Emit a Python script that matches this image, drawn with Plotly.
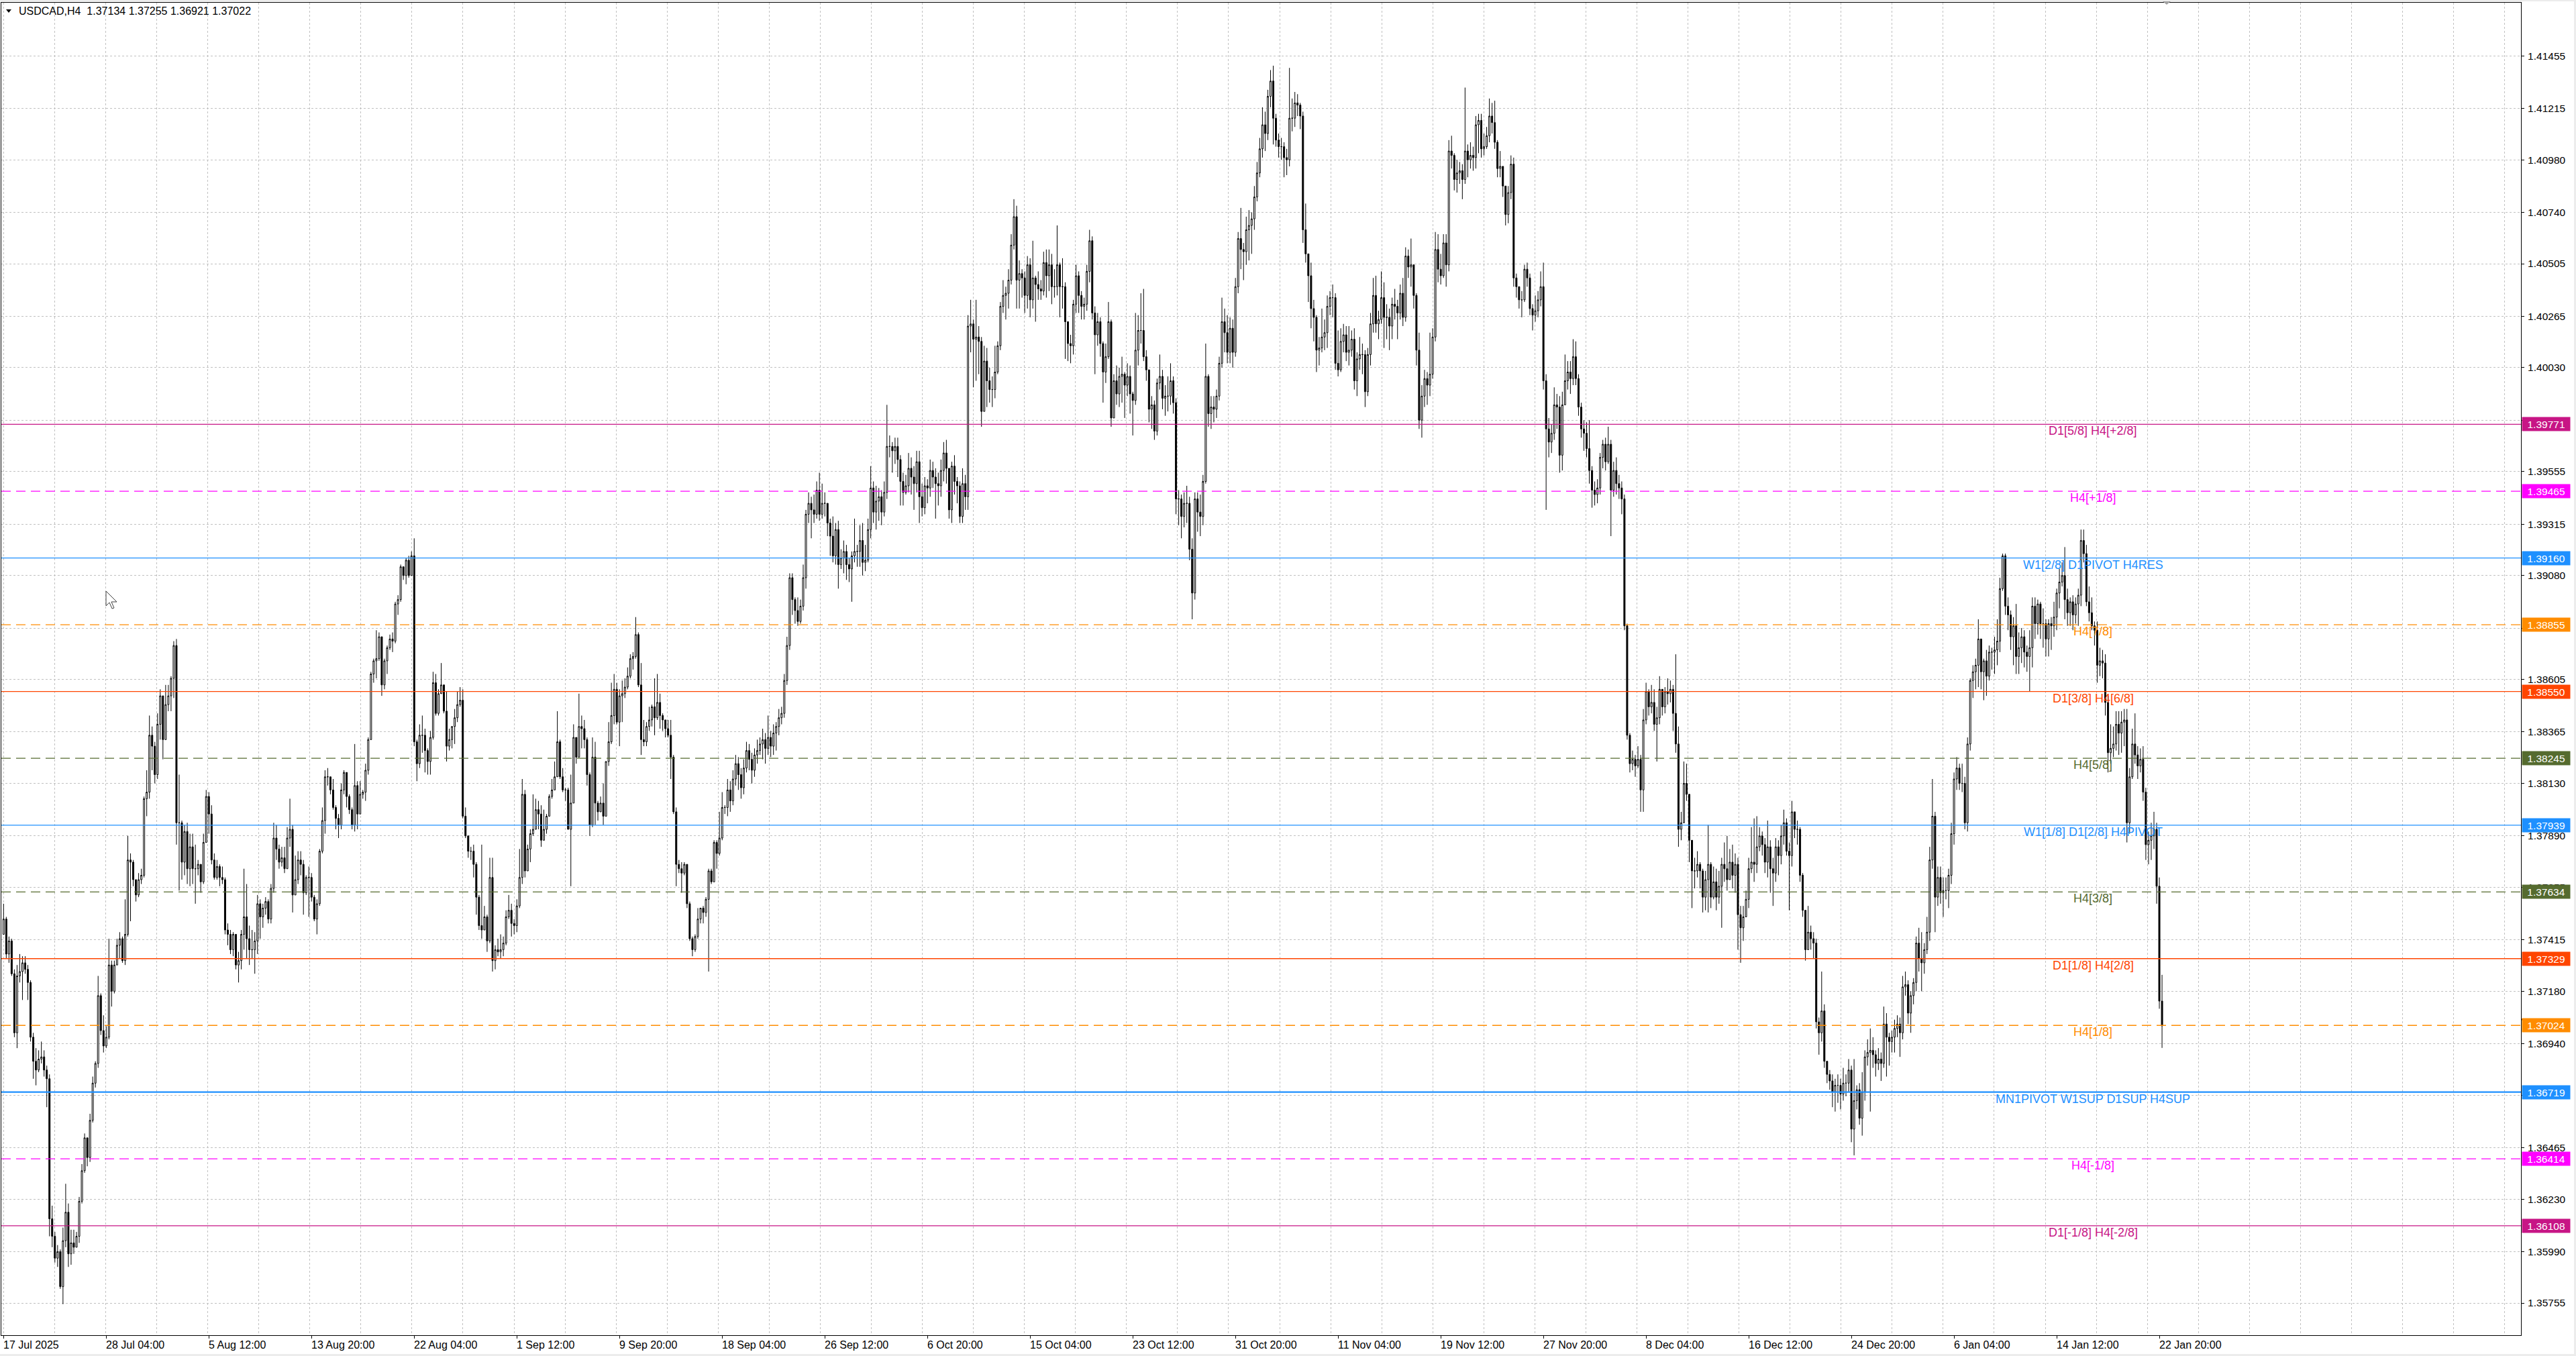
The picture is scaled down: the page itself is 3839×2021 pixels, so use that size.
import plotly.graph_objects as go

# ---------------- data ----------------
SYMBOL_TITLE = "USDCAD,H4\u00a0 1.37134 1.37255 1.36921 1.37022"

FIRST_OPEN = 1.3744

CLOSE = [
 1.3751,1.3735,1.3741,1.3726,1.3699,1.3725,1.3727,1.3731,1.3728,1.3722,
 1.3697,1.3686,1.3682,1.3687,1.3688,1.3682,1.3678,1.3614,1.3606,1.3596,
 1.3599,1.3583,1.3604,1.3617,1.3598,1.3603,1.3601,1.3606,1.3622,1.3636,
 1.3651,1.3642,1.3659,1.3676,1.3685,1.3716,1.3700,1.3693,1.3697,1.3730,
 1.3718,1.3730,1.3739,1.3742,1.3732,1.3744,1.3778,1.3777,1.3769,1.3762,
 1.3769,1.3771,1.3806,1.3809,1.3835,1.3830,1.3817,1.3840,1.3853,1.3833,
 1.3849,1.3853,1.3861,1.3876,1.3795,1.3795,1.3777,1.3791,1.3774,1.3784,
 1.3774,1.3774,1.3776,1.3768,1.3786,1.3807,1.3799,1.3778,1.3770,1.3775,
 1.3770,1.3769,1.3746,1.3744,1.3737,1.3744,1.3730,1.3732,1.3744,1.3752,
 1.3742,1.3737,1.3737,1.3741,1.3758,1.3752,1.3756,1.3759,1.3751,1.3765,
 1.3788,1.3783,1.3777,1.3779,1.3774,1.3788,1.3792,1.3762,1.3769,1.3778,
 1.3776,1.3763,1.3770,1.3770,1.3761,1.3751,1.3758,1.3782,1.3796,1.3816,
 1.3816,1.3810,1.3802,1.3797,1.3794,1.3810,1.3818,1.3807,1.3801,1.3794,
 1.3812,1.3799,1.3808,1.3809,1.3819,1.3833,1.3863,1.3869,1.3870,1.3880,
 1.3858,1.3869,1.3875,1.3879,1.3878,1.3895,1.3897,1.3912,1.3908,1.3915,
 1.3908,1.3917,1.3832,1.3822,1.3835,1.3835,1.3828,1.3823,1.3834,1.3859,
 1.3845,1.3854,1.3858,1.3846,1.3830,1.3833,1.3839,1.3843,1.3849,1.3851,
 1.3798,1.3789,1.3782,1.3782,1.3776,1.3761,1.3748,1.3746,1.3752,1.3741,
 1.3770,1.3732,1.3737,1.3736,1.3737,1.3740,1.3752,1.3755,1.3749,1.3748,
 1.3757,1.3770,1.3808,1.3773,1.3783,1.3790,1.3792,1.3801,1.3799,1.3787,
 1.3792,1.3798,1.3807,1.3810,1.3816,1.3832,1.3816,1.3810,1.3810,1.3792,
 1.3804,1.3834,1.3825,1.3839,1.3838,1.3833,1.3817,1.3794,1.3825,1.3804,
 1.3800,1.3804,1.3798,1.3823,1.3832,1.3844,1.3856,1.3841,1.3853,1.3854,
 1.3857,1.3862,1.3870,1.3871,1.3881,1.3858,1.3833,1.3832,1.3839,1.3842,
 1.3848,1.3843,1.3850,1.3844,1.3842,1.3838,1.3835,1.3825,1.3800,1.3776,
 1.3774,1.3772,1.3776,1.3758,1.3742,1.3737,1.3743,1.3751,1.3756,1.3754,
 1.3760,1.3773,1.3768,1.3786,1.3781,1.3788,1.3802,1.3802,1.3810,1.3805,
 1.3815,1.3822,1.3817,1.3811,1.3820,1.3828,1.3824,1.3819,1.3826,1.3828,
 1.3831,1.3833,1.3829,1.3834,1.3830,1.3836,1.3839,1.3843,1.3845,1.3860,
 1.3876,1.3907,1.3897,1.3892,1.3887,1.3894,1.3907,1.3936,1.3941,1.3938,
 1.3936,1.3947,1.3936,1.3941,1.3941,1.3932,1.3926,1.3917,1.3929,1.3913,
 1.3916,1.3919,1.3913,1.3911,1.3917,1.3919,1.3919,1.3924,1.3914,1.3915,
 1.3929,1.3948,1.3937,1.3942,1.3944,1.3937,1.3946,1.3967,1.3967,1.3965,
 1.3967,1.3961,1.3951,1.3946,1.3949,1.3957,1.3953,1.3950,1.3960,1.3944,
 1.3939,1.3949,1.3948,1.3956,1.3953,1.3950,1.3949,1.3956,1.3964,1.3957,
 1.3938,1.3958,1.3951,1.3949,1.3935,1.3950,1.3944,1.4022,1.4023,1.4016,
 1.4017,1.4015,1.3983,1.4006,1.3997,1.3993,1.3993,1.4001,1.4013,1.4031,
 1.4036,1.4037,1.4043,1.4059,1.4072,1.4043,1.4046,1.4044,1.4036,1.4050,
 1.4034,1.4044,1.4041,1.4039,1.4038,1.4051,1.4045,1.4050,1.4040,1.4040,
 1.4050,1.4040,1.4040,1.4024,1.4014,1.4013,1.4032,1.4045,1.4036,1.4031,
 1.4032,1.4047,1.4061,1.4028,1.4018,1.4024,1.4014,1.4001,1.4008,1.4024,
 1.3980,1.3997,1.3991,1.3999,1.4000,1.3995,1.3999,1.3991,1.3988,1.4011,
 1.4020,1.4020,1.4008,1.4002,1.3984,1.3986,1.3974,1.3996,1.3999,1.3989,
 1.3990,1.3990,1.3997,1.3987,1.3943,1.3943,1.3935,1.3941,1.3941,1.3920,
 1.3900,1.3943,1.3937,1.3935,1.3951,1.3999,1.3982,1.3985,1.3984,1.3990,
 1.4005,1.4024,1.4019,1.4010,1.4021,1.4010,1.4040,1.4062,1.4057,1.4056,
 1.4066,1.4068,1.4071,1.4081,1.4092,1.4103,1.4114,1.4110,1.4127,1.4134,
 1.4117,1.4107,1.4104,1.4104,1.4099,1.4098,1.4117,1.4117,1.4124,1.4123,
 1.4118,1.4066,1.4055,1.4045,1.4030,1.4026,1.4011,1.4012,1.4017,1.4019,
 1.4031,1.4035,1.4035,1.4005,1.4002,1.4015,1.4018,1.4010,1.4011,1.4016,
 1.3997,1.4007,1.4009,1.4009,1.3992,1.4009,1.4023,1.4036,1.4023,1.4025,
 1.4035,1.4026,1.4026,1.4022,1.4032,1.4031,1.4028,1.4037,1.4026,1.4054,
 1.4049,1.4050,1.4036,1.4011,1.3979,1.3990,1.3998,1.3995,1.4000,1.4017,
 1.4057,1.4048,1.4045,1.4060,1.4050,1.4102,1.4100,1.4089,1.4092,1.4093,
 1.4089,1.4102,1.4098,1.4100,1.4099,1.4114,1.4116,1.4103,1.4104,1.4109,
 1.4118,1.4115,1.4106,1.4094,1.4095,1.4086,1.4073,1.4083,1.4096,1.4044,
 1.4040,1.4034,1.4034,1.4048,1.4044,1.4030,1.4027,1.4029,1.4034,1.4040,
 1.3997,1.3975,1.3969,1.3973,1.3986,1.3985,1.3963,1.3986,1.3997,1.4001,
 1.3998,1.4008,1.3998,1.3985,1.3975,1.3973,1.3966,1.3956,1.3947,1.3945,
 1.3948,1.3962,1.3968,1.3960,1.3968,1.3947,1.3956,1.3950,1.3948,1.3943,
 1.3885,1.3835,1.3822,1.3824,1.3821,1.3824,1.3810,1.3842,1.3855,1.3848,
 1.3850,1.3840,1.3843,1.3856,1.3848,1.3855,1.3854,1.3856,1.3845,1.3831,
 1.3792,1.3795,1.3813,1.3808,1.3787,1.3773,1.3773,1.3776,1.3773,1.3761,
 1.3769,1.3776,1.3761,1.3768,1.3761,1.3766,1.3776,1.3774,1.3769,1.3777,
 1.3771,1.3776,1.3753,1.3747,1.3752,1.3760,1.3774,1.3777,1.3776,1.3784,
 1.3789,1.3785,1.3777,1.3784,1.3774,1.3772,1.3784,1.3780,1.3789,1.3795,
 1.3782,1.3780,1.3800,1.3792,1.3792,1.3771,1.3755,1.3737,1.3745,1.3742,
 1.3740,1.3704,1.3699,1.3709,1.3686,1.3680,1.3677,1.3672,1.3675,1.3675,
 1.3671,1.3676,1.3676,1.3682,1.3655,1.3668,1.3673,1.3660,1.3672,1.3688,
 1.3690,1.3691,1.3689,1.3685,1.3687,1.3685,1.3703,1.3697,1.3695,1.3697,
 1.3701,1.3703,1.3699,1.3720,1.3721,1.3708,1.3716,1.3722,1.3740,1.3733,
 1.3731,1.3737,1.3745,1.3778,1.3798,1.3761,1.3770,1.3763,1.3764,1.3764,
 1.3771,1.3790,1.3815,1.3820,1.3813,1.3813,1.3795,1.3831,1.3860,1.3864,
 1.3867,1.3879,1.3864,1.3869,1.3862,1.3873,1.3873,1.3874,1.3878,1.3902,
 1.3917,1.3894,1.3890,1.3880,1.3885,1.3871,1.3875,1.3880,1.3873,1.3871,
 1.3875,1.3894,1.3886,1.3895,1.3886,1.3886,1.3879,1.3886,1.3885,1.3889,
 1.3900,1.3905,1.3908,1.3897,1.3891,1.3896,1.3890,1.3895,1.3899,1.3924,
 1.3918,1.3896,1.3891,1.3885,1.3883,1.3867,1.3869,1.3868,1.3850,1.3827,
 1.3829,1.3831,1.3840,1.3836,1.3841,1.3842,1.3795,1.3816,1.3831,1.3826,
 1.3821,1.3824,1.3809,1.3785,1.3787,1.3789,1.3792,1.3766,1.37135,1.37022,
]

HIGH = [
 1.3758,1.3752,1.3743,1.3742,1.3728,1.3730,1.3735,1.3734,1.3734,1.3730,
 1.3723,1.3699,1.3692,1.3691,1.3695,1.3691,1.3684,1.3680,1.3620,1.3608,
 1.3602,1.3600,1.3610,1.3630,1.3621,1.3609,1.3609,1.3608,1.3624,1.3639,
 1.3653,1.3648,1.3662,1.3679,1.3686,1.3725,1.3717,1.3707,1.3702,1.3742,
 1.3732,1.3732,1.3742,1.3745,1.3743,1.3760,1.3789,1.3781,1.3778,1.3768,
 1.3772,1.3774,1.3807,1.3819,1.3844,1.3839,1.3832,1.3845,1.3856,1.3851,
 1.3858,1.3858,1.3862,1.3878,1.3879,1.3817,1.3796,1.3794,1.3795,1.3790,
 1.3790,1.3785,1.3778,1.3776,1.3790,1.3810,1.3809,1.3803,1.3781,1.3778,
 1.3776,1.3775,1.3770,1.3749,1.3746,1.3745,1.3744,1.3736,1.3746,1.3774,
 1.3767,1.3748,1.3746,1.3745,1.3762,1.3760,1.3758,1.3761,1.3760,1.3767,
 1.3795,1.3794,1.3785,1.3784,1.3784,1.3793,1.3806,1.3794,1.3780,1.3782,
 1.3782,1.3778,1.3771,1.3775,1.3772,1.3762,1.3760,1.3783,1.3802,1.3819,
 1.3820,1.3816,1.3815,1.3803,1.3799,1.3813,1.3819,1.3817,1.3808,1.3802,
 1.3831,1.3814,1.3814,1.3810,1.3822,1.3834,1.3864,1.3870,1.3883,1.3882,
 1.3880,1.3870,1.3876,1.3881,1.3882,1.3896,1.3899,1.3913,1.3912,1.3916,
 1.3917,1.3919,1.3925,1.3833,1.3840,1.3844,1.3838,1.3829,1.3837,1.3864,
 1.3863,1.3856,1.3868,1.3858,1.3855,1.3838,1.3839,1.3847,1.3855,1.3857,
 1.3856,1.3802,1.3789,1.3784,1.3785,1.3777,1.3762,1.3785,1.3757,1.3753,
 1.3779,1.3779,1.3739,1.3742,1.3744,1.3743,1.3755,1.3762,1.3758,1.3751,
 1.3760,1.3783,1.3815,1.3810,1.3785,1.3792,1.3808,1.3806,1.3805,1.3803,
 1.3801,1.3799,1.3808,1.3815,1.3823,1.3846,1.3833,1.3820,1.3811,1.3811,
 1.3817,1.3840,1.3834,1.3854,1.3844,1.3842,1.3834,1.3818,1.3834,1.3832,
 1.3805,1.3807,1.3813,1.3823,1.3841,1.3859,1.3863,1.3859,1.3856,1.3860,
 1.3861,1.3866,1.3872,1.3873,1.3889,1.3882,1.3868,1.3842,1.3841,1.3848,
 1.3849,1.3861,1.3863,1.3854,1.3845,1.3842,1.3842,1.3842,1.3826,1.3802,
 1.3778,1.3777,1.3777,1.3776,1.3759,1.3743,1.3744,1.3756,1.3756,1.3757,
 1.3761,1.3774,1.3774,1.3787,1.3787,1.3800,1.3809,1.3803,1.3815,1.3814,
 1.3819,1.3826,1.3825,1.3820,1.3824,1.3832,1.3831,1.3827,1.3829,1.3833,
 1.3834,1.3838,1.3836,1.3844,1.3837,1.3840,1.3841,1.3847,1.3848,1.3863,
 1.3880,1.3909,1.3909,1.3898,1.3898,1.3897,1.3913,1.3938,1.3946,1.3944,
 1.3945,1.3951,1.3955,1.3950,1.3946,1.3940,1.3934,1.3935,1.3932,1.3933,
 1.3920,1.3924,1.3922,1.3916,1.3919,1.3934,1.3922,1.3931,1.3932,1.3922,
 1.3934,1.3958,1.3951,1.3949,1.3948,1.3947,1.3951,1.3986,1.3972,1.3969,
 1.3971,1.3971,1.3963,1.3955,1.3954,1.3964,1.3962,1.3958,1.3965,1.3965,
 1.3950,1.3953,1.3952,1.3961,1.3960,1.3957,1.3955,1.3961,1.3969,1.3970,
 1.3956,1.3960,1.3963,1.3953,1.3951,1.3957,1.3954,1.4027,1.4034,1.4025,
 1.4034,1.4022,1.4017,1.4013,1.4012,1.4003,1.3999,1.4013,1.4015,1.4033,
 1.4043,1.4040,1.4048,1.4064,1.4080,1.4077,1.4052,1.4048,1.4047,1.4054,
 1.4053,1.4061,1.4045,1.4047,1.4043,1.4056,1.4057,1.4057,1.4055,1.4048,
 1.4068,1.4051,1.4053,1.4042,1.4020,1.4018,1.4034,1.4050,1.4047,1.4038,
 1.4035,1.4050,1.4066,1.4063,1.4031,1.4028,1.4026,1.4015,1.4014,1.4033,
 1.4025,1.4000,1.4004,1.4003,1.4008,1.4001,1.4005,1.4004,1.3992,1.4028,
 1.4027,1.4037,1.4039,1.4011,1.4002,1.3990,1.3988,1.3998,1.4009,1.4002,
 1.3995,1.3999,1.4005,1.3999,1.3989,1.3947,1.3945,1.3946,1.3949,1.3944,
 1.3925,1.3946,1.3946,1.3945,1.3954,1.4014,1.4000,1.3990,1.3990,1.3993,
 1.4008,1.4035,1.4030,1.4027,1.4026,1.4025,1.4044,1.4065,1.4076,1.4060,
 1.4072,1.4075,1.4074,1.4086,1.4097,1.4108,1.4122,1.4120,1.4130,1.4139,
 1.4141,1.4119,1.4110,1.4108,1.4106,1.4103,1.4140,1.4126,1.4129,1.4128,
 1.4124,1.4120,1.4078,1.4055,1.4051,1.4034,1.4027,1.4017,1.4030,1.4025,
 1.4036,1.4038,1.4041,1.4037,1.4020,1.4021,1.4023,1.4022,1.4022,1.4020,
 1.4021,1.4010,1.4017,1.4014,1.4011,1.4012,1.4028,1.4044,1.4045,1.4029,
 1.4047,1.4042,1.4032,1.4030,1.4035,1.4039,1.4034,1.4041,1.4044,1.4058,
 1.4057,1.4062,1.4050,1.4037,1.4019,1.3995,1.4002,1.4001,1.4019,1.4021,
 1.4065,1.4064,1.4055,1.4064,1.4064,1.4107,1.4109,1.4101,1.4098,1.4097,
 1.4096,1.4131,1.4105,1.4106,1.4104,1.4118,1.4119,1.4119,1.4110,1.4113,
 1.4126,1.4124,1.4125,1.4107,1.4102,1.4094,1.4086,1.4086,1.4100,1.4099,
 1.4046,1.4040,1.4038,1.4050,1.4051,1.4046,1.4032,1.4036,1.4038,1.4047,
 1.4051,1.4000,1.3980,1.3977,1.3994,1.3991,1.3990,1.3992,1.4009,1.4006,
 1.4006,1.4016,1.4015,1.4000,1.3987,1.3979,1.3978,1.3979,1.3958,1.3951,
 1.3952,1.3964,1.3970,1.3971,1.3976,1.3970,1.3960,1.3962,1.3954,1.3951,
 1.3945,1.3886,1.3836,1.3828,1.3826,1.3830,1.3826,1.3847,1.3859,1.3856,
 1.3858,1.3856,1.3848,1.3862,1.3856,1.3857,1.3861,1.3860,1.3858,1.3872,
 1.3839,1.3800,1.3823,1.3822,1.3808,1.3787,1.3779,1.3782,1.3777,1.3774,
 1.3773,1.3794,1.3777,1.3775,1.3774,1.3773,1.3779,1.3786,1.3789,1.3783,
 1.3785,1.3781,1.3779,1.3757,1.3757,1.3764,1.3779,1.3793,1.3797,1.3798,
 1.3793,1.3791,1.3788,1.3796,1.3787,1.3779,1.3788,1.3787,1.3794,1.3801,
 1.3797,1.3786,1.3805,1.3800,1.3796,1.3793,1.3772,1.3755,1.3757,1.3748,
 1.3745,1.3742,1.3706,1.3727,1.3712,1.3686,1.3682,1.3680,1.3678,1.3680,
 1.3678,1.3683,1.3680,1.3687,1.3684,1.3687,1.3675,1.3676,1.3681,1.3691,
 1.3696,1.3701,1.3697,1.3691,1.3692,1.3690,1.3711,1.3708,1.3699,1.3700,
 1.3705,1.3707,1.3706,1.3725,1.3727,1.3723,1.3718,1.3724,1.3743,1.3747,
 1.3745,1.3740,1.3752,1.3784,1.3815,1.3800,1.3775,1.3775,1.3770,1.3770,
 1.3774,1.3795,1.3818,1.3825,1.3822,1.3822,1.3816,1.3834,1.3861,1.3867,
 1.3870,1.3888,1.3874,1.3870,1.3874,1.3876,1.3875,1.3880,1.3888,1.3907,
 1.3918,1.3918,1.3898,1.3892,1.3889,1.3895,1.3882,1.3884,1.3883,1.3876,
 1.3883,1.3898,1.3898,1.3897,1.3896,1.3893,1.3888,1.3888,1.3889,1.3896,
 1.3902,1.3911,1.3914,1.3921,1.3902,1.3898,1.3899,1.3898,1.3902,1.3929,
 1.3929,1.3922,1.3903,1.3898,1.3887,1.3887,1.3875,1.3874,1.3872,1.3853,
 1.3840,1.3839,1.3846,1.3846,1.3846,1.3847,1.3847,1.3820,1.3838,1.3845,
 1.3830,1.3829,1.3830,1.3811,1.3791,1.3795,1.3800,1.3795,1.3770,1.37255,
]

LOW = [
 1.3744,1.3733,1.3731,1.3725,1.3697,1.3692,1.3722,1.3714,1.3726,1.3714,
 1.3695,1.3678,1.3675,1.3681,1.3685,1.3679,1.3665,1.3606,1.3601,1.3594,
 1.3592,1.3582,1.3575,1.3601,1.3592,1.3593,1.3598,1.3601,1.3603,1.3621,
 1.3635,1.3638,1.3640,1.3658,1.3674,1.3683,1.3698,1.3690,1.3692,1.3696,
 1.3711,1.3717,1.3730,1.3733,1.3731,1.3730,1.3743,1.3750,1.3766,1.3759,
 1.3761,1.3767,1.3770,1.3798,1.3806,1.3819,1.3813,1.3815,1.3833,1.3824,
 1.3845,1.3846,1.3846,1.3852,1.3785,1.3764,1.3769,1.3771,1.3767,1.3766,
 1.3767,1.3758,1.3771,1.3763,1.3767,1.3786,1.3790,1.3776,1.3769,1.3769,
 1.3766,1.3767,1.3744,1.3739,1.3735,1.3734,1.3728,1.3722,1.3728,1.3737,
 1.3733,1.3730,1.3733,1.3726,1.3735,1.3742,1.3747,1.3753,1.3749,1.3749,
 1.3763,1.3778,1.3774,1.3775,1.3772,1.3774,1.3784,1.3754,1.3762,1.3767,
 1.3771,1.3753,1.3762,1.3752,1.3759,1.3750,1.3744,1.3757,1.3781,1.3790,
 1.3812,1.3808,1.3801,1.3792,1.3788,1.3792,1.3808,1.3802,1.3799,1.3792,
 1.3791,1.3792,1.3799,1.3806,1.3805,1.3817,1.3833,1.3859,1.3861,1.3869,
 1.3853,1.3856,1.3863,1.3874,1.3873,1.3877,1.3890,1.3896,1.3906,1.3904,
 1.3907,1.3908,1.3830,1.3814,1.3820,1.3827,1.3818,1.3817,1.3817,1.3833,
 1.3844,1.3844,1.3854,1.3845,1.3823,1.3828,1.3829,1.3831,1.3841,1.3848,
 1.3797,1.3788,1.3779,1.3778,1.3770,1.3753,1.3746,1.3742,1.3746,1.3736,
 1.3740,1.3727,1.3728,1.3734,1.3733,1.3734,1.3739,1.3751,1.3743,1.3744,
 1.3745,1.3756,1.3767,1.3770,1.3773,1.3777,1.3789,1.3792,1.3792,1.3784,
 1.3787,1.3790,1.3798,1.3806,1.3810,1.3816,1.3815,1.3809,1.3805,1.3792,
 1.3766,1.3804,1.3822,1.3830,1.3829,1.3829,1.3812,1.3789,1.3793,1.3794,
 1.3796,1.3803,1.3794,1.3798,1.3821,1.3831,1.3840,1.3840,1.3830,1.3841,
 1.3852,1.3856,1.3861,1.3865,1.3870,1.3857,1.3826,1.3830,1.3830,1.3837,
 1.3839,1.3835,1.3842,1.3838,1.3837,1.3834,1.3834,1.3815,1.3799,1.3766,
 1.3772,1.3763,1.3771,1.3756,1.3741,1.3734,1.3736,1.3742,1.3749,1.3749,
 1.3752,1.3727,1.3767,1.3768,1.3774,1.3780,1.3787,1.3799,1.3798,1.3800,
 1.3803,1.3812,1.3810,1.3806,1.3808,1.3818,1.3819,1.3813,1.3816,1.3822,
 1.3826,1.3824,1.3822,1.3826,1.3825,1.3826,1.3828,1.3835,1.3840,1.3843,
 1.3858,1.3874,1.3890,1.3886,1.3885,1.3886,1.3892,1.3902,1.3932,1.3925,
 1.3932,1.3934,1.3933,1.3934,1.3935,1.3926,1.3917,1.3914,1.3913,1.3902,
 1.3911,1.3909,1.3906,1.3905,1.3896,1.3914,1.3912,1.3912,1.3908,1.3910,
 1.3914,1.3925,1.3932,1.3929,1.3933,1.3931,1.3935,1.3943,1.3962,1.3955,
 1.3959,1.3953,1.3940,1.3940,1.3945,1.3946,1.3945,1.3938,1.3946,1.3932,
 1.3935,1.3936,1.3941,1.3944,1.3948,1.3934,1.3940,1.3944,1.3951,1.3950,
 1.3934,1.3932,1.3945,1.3941,1.3932,1.3932,1.3938,1.3938,1.4010,1.3994,
 1.3997,1.4000,1.3976,1.3983,1.3985,1.3987,1.3985,1.3989,1.4000,1.4011,
 1.4028,1.4025,1.4030,1.4041,1.4057,1.4030,1.4030,1.4035,1.4028,1.4030,
 1.4026,1.4030,1.4024,1.4034,1.4034,1.4036,1.4035,1.4038,1.4032,1.4035,
 1.4036,1.4026,1.4030,1.4007,1.4006,1.4005,1.4009,1.4028,1.4028,1.4025,
 1.4025,1.4029,1.4042,1.4025,1.4000,1.4013,1.4008,1.3987,1.3996,1.4007,
 1.3976,1.3980,1.3986,1.3985,1.3987,1.3980,1.3990,1.3982,1.3972,1.3986,
 1.4004,1.4014,1.4006,1.3997,1.3978,1.3975,1.3970,1.3972,1.3993,1.3984,
 1.3981,1.3983,1.3986,1.3982,1.3936,1.3931,1.3925,1.3930,1.3932,1.3915,
 1.3888,1.3897,1.3928,1.3926,1.3931,1.3950,1.3976,1.3975,1.3978,1.3980,
 1.3988,1.4003,1.4010,1.4005,1.4005,1.4003,1.4008,1.4037,1.4048,1.4043,
 1.4050,1.4052,1.4055,1.4066,1.4079,1.4090,1.4099,1.4102,1.4107,1.4122,
 1.4105,1.4104,1.4099,1.4098,1.4090,1.4091,1.4095,1.4111,1.4113,1.4118,
 1.4112,1.4060,1.4051,1.4033,1.4021,1.4015,1.4001,1.4004,1.4010,1.4011,
 1.4012,1.4027,1.4026,1.4002,1.3999,1.4001,1.4010,1.4006,1.4004,1.4008,
 1.3993,1.3990,1.4002,1.4000,1.3985,1.3990,1.4004,1.4019,1.4019,1.4016,
 1.4023,1.4012,1.4016,1.4011,1.4016,1.4025,1.4016,1.4025,1.4022,1.4024,
 1.4044,1.4040,1.4030,1.4004,1.3975,1.3971,1.3985,1.3986,1.3990,1.3998,
 1.4015,1.4042,1.4041,1.4044,1.4040,1.4047,1.4094,1.4084,1.4083,1.4087,
 1.4080,1.4087,1.4090,1.4094,1.4093,1.4094,1.4101,1.4099,1.4100,1.4103,
 1.4106,1.4110,1.4103,1.4090,1.4090,1.4081,1.4068,1.4069,1.4080,1.4040,
 1.4035,1.4030,1.4026,1.4033,1.4040,1.4027,1.4020,1.4024,1.4026,1.4031,
 1.3993,1.3938,1.3962,1.3964,1.3970,1.3975,1.3955,1.3956,1.3986,1.3993,
 1.3991,1.3995,1.3995,1.3981,1.3971,1.3965,1.3962,1.3950,1.3939,1.3940,
 1.3941,1.3945,1.3957,1.3956,1.3959,1.3926,1.3944,1.3945,1.3943,1.3936,
 1.3883,1.3833,1.3818,1.3819,1.3816,1.3820,1.3800,1.3800,1.3840,1.3844,
 1.3845,1.3837,1.3823,1.3840,1.3844,1.3845,1.3849,1.3850,1.3837,1.3827,
 1.3784,1.3787,1.3795,1.3805,1.3777,1.3756,1.3765,1.3770,1.3765,1.3754,
 1.3755,1.3754,1.3756,1.3760,1.3755,1.3758,1.3747,1.3768,1.3764,1.3769,
 1.3765,1.3763,1.3737,1.3731,1.3741,1.3752,1.3756,1.3772,1.3768,1.3772,
 1.3782,1.3780,1.3772,1.3770,1.3763,1.3757,1.3768,1.3771,1.3776,1.3785,
 1.3780,1.3755,1.3775,1.3788,1.3785,1.3768,1.3752,1.3732,1.3738,1.3737,
 1.3733,1.3701,1.3689,1.3695,1.3683,1.3676,1.3673,1.3665,1.3663,1.3667,
 1.3664,1.3668,1.3670,1.3672,1.3649,1.3643,1.3664,1.3657,1.3652,1.3668,
 1.3684,1.3663,1.3683,1.3679,1.3682,1.3677,1.3683,1.3679,1.3684,1.3690,
 1.3690,1.3697,1.3688,1.3696,1.3716,1.3703,1.3699,1.3712,1.3718,1.3727,
 1.3718,1.3726,1.3735,1.3741,1.3774,1.3745,1.3757,1.3758,1.3752,1.3760,
 1.3756,1.3767,1.3785,1.3810,1.3810,1.3809,1.3792,1.3791,1.3828,1.3852,
 1.3856,1.3857,1.3856,1.3851,1.3853,1.3860,1.3865,1.3863,1.3867,1.3873,
 1.3901,1.3890,1.3883,1.3874,1.3867,1.3863,1.3863,1.3868,1.3866,1.3864,
 1.3855,1.3866,1.3879,1.3881,1.3879,1.3875,1.3871,1.3871,1.3874,1.3880,
 1.3883,1.3893,1.3903,1.3888,1.3885,1.3885,1.3883,1.3886,1.3885,1.3894,
 1.3914,1.3894,1.3887,1.3883,1.3876,1.3859,1.3862,1.3861,1.3844,1.3818,
 1.3822,1.3825,1.3828,1.3826,1.3827,1.3830,1.3786,1.3790,1.3815,1.3822,
 1.3815,1.3818,1.3805,1.3778,1.3776,1.3778,1.3783,1.3758,1.3710,1.36921,
]

TIME_LABELS = ["17 Jul 2025", "28 Jul 04:00", "5 Aug 12:00", "13 Aug 20:00", "22 Aug 04:00",
               "1 Sep 12:00", "9 Sep 20:00", "18 Sep 04:00", "26 Sep 12:00", "6 Oct 20:00",
               "15 Oct 04:00", "23 Oct 12:00", "31 Oct 20:00", "11 Nov 04:00", "19 Nov 12:00",
               "27 Nov 20:00", "8 Dec 04:00", "16 Dec 12:00", "24 Dec 20:00", "6 Jan 04:00",
               "14 Jan 12:00", "22 Jan 20:00"]
TIME_LABEL_BARS = [0, 38, 76, 114, 152, 190, 228, 266, 304, 342, 380, 418, 456, 494, 532,
                   570, 608, 646, 684, 722, 760, 798]

PRICE_TICKS = [1.41455, 1.41215, 1.40980, 1.40740, 1.40505, 1.40265, 1.40030, 1.39790,
               1.39555, 1.39315, 1.39080, 1.38840, 1.38605, 1.38365, 1.38130, 1.37890,
               1.37655, 1.37415, 1.37180, 1.36940, 1.36705, 1.36465, 1.36230, 1.35990, 1.35755]

LEVEL_VALUES = [1.39771, 1.39465, 1.39160, 1.38855, 1.38550, 1.38245, 1.37939,
                1.37634, 1.37329, 1.37024, 1.36719, 1.36414, 1.36108]
LEVEL_NAMES = ["D1[5/8] H4[+2/8]", "H4[+1/8]", "W1[2/8] D1PIVOT H4RES", "H4[7/8]",
               "D1[3/8] H4[6/8]", "H4[5/8]", "W1[1/8] D1[2/8] H4PIVOT", "H4[3/8]",
               "D1[1/8] H4[2/8]", "H4[1/8]", "MN1PIVOT W1SUP D1SUP H4SUP", "H4[-1/8]",
               "D1[-1/8] H4[-2/8]"]

# ---------------- styles ----------------
VIOLET, MAGENTA, BLUE, ORANGE = "#C71585", "#FF00FF", "#1E90FF", "#FF8C00"
RED, OLIVE = "#FF4500", "#556B2F"
LEVEL_STYLE = [(VIOLET, "solid", 1.3), (MAGENTA, "14px,8px", 1.3), (BLUE, "solid", 1.3),
               (ORANGE, "14px,8px", 1.3), (RED, "solid", 1.3), (OLIVE, "14px,8px", 1.3),
               (BLUE, "solid", 1.3), (OLIVE, "14px,8px", 1.3), (RED, "solid", 1.3),
               (ORANGE, "14px,8px", 1.3), (BLUE, "solid", 2.2), (MAGENTA, "14px,8px", 1.3),
               (VIOLET, "solid", 1.3)]

W, H = 3839, 2021
ML, MR, MT, MB = 2, 82, 4, 31
BAR0_PX, BAR_STEP = 5.3, 4.026           # pixel of first bar, pixels per bar
PRICE_TOP, PRICE_BOT = 1.41698, 1.35608
FONT = "Liberation Sans, Arial, sans-serif"

n = len(CLOSE)
assert len(HIGH) == n and len(LOW) == n, (len(CLOSE), len(HIGH), len(LOW))
bars = list(range(n))
opens = [FIRST_OPEN] + CLOSE[:-1]          # each H4 bar opens at the prior close
highs = [max(h, o, c) for h, o, c in zip(HIGH, opens, CLOSE)]
lows = [min(l, o, c) for l, o, c in zip(LOW, opens, CLOSE)]

plot_w = W - ML - MR
x_lo = (ML - BAR0_PX) / BAR_STEP
x_hi = (ML + plot_w - BAR0_PX) / BAR_STEP


def px_x(px):
    return (px - ML) / plot_w


def px_y(py):
    return (H - MB - py) / (H - MT - MB)


fig = go.Figure()
fig.add_trace(go.Candlestick(
    x=bars, open=opens, high=highs, low=lows, close=CLOSE,
    increasing=dict(line=dict(color="black", width=1), fillcolor="white"),
    decreasing=dict(line=dict(color="black", width=1), fillcolor="black"),
    whiskerwidth=0, hoverinfo="skip", showlegend=False))

shapes = []
annotations = []

# level lines with their names and price tags
for v, name, (col, dash, lw) in zip(LEVEL_VALUES, LEVEL_NAMES, LEVEL_STYLE):
    shapes.append(dict(type="line", xref="paper", yref="y", x0=0, x1=1, y0=v, y1=v,
                       line=dict(color=col, width=lw, dash=dash), layer="above"))
    annotations.append(dict(x=773.4, y=v, xref="x", yref="y", text=name, showarrow=False,
                            xanchor="center", yanchor="top", yshift=2,
                            font=dict(family=FONT, size=18, color=col)))

# bid tag hidden behind the H4[1/8] tag (only its top edge shows)
shapes.append(dict(type="line", xref="paper", yref="paper", x0=1.0003, x1=px_x(3829),
                   y0=px_y(1519.5), y1=px_y(1519.5), line=dict(color="black", width=2)))

for v, (col, dash, lw) in zip(LEVEL_VALUES, LEVEL_STYLE):
    annotations.append(dict(x=1, y=v, xref="paper", yref="y", text=f"{v:.5f}",
                            showarrow=False, xanchor="left", yanchor="middle", xshift=1,
                            bgcolor=col, width=67, height=16, borderpad=2, align="center",
                            font=dict(family=FONT, size=15.5, color="white")))

# time labels (text starts at the tick, MT4 style)
for b, lab in zip(TIME_LABEL_BARS, TIME_LABELS):
    annotations.append(dict(x=b, y=0, xref="x", yref="paper", text=lab, showarrow=False,
                            xanchor="left", yanchor="top", xshift=-2, yshift=-4,
                            font=dict(family=FONT, size=16, color="black")))

# title
annotations.append(dict(x=0, y=1, xref="paper", yref="paper", text=SYMBOL_TITLE,
                        showarrow=False, xanchor="left", yanchor="top", xshift=24, yshift=-2,
                        font=dict(family=FONT, size=16, color="black")))
shapes.append(dict(type="path", xref="paper", yref="paper",
                   path=f"M {px_x(9)},{px_y(14)} L {px_x(17)},{px_y(14)} L {px_x(13)},{px_y(19)} Z",
                   fillcolor="black", line=dict(width=0)))

# chart-shift marker on the top border
shapes.append(dict(type="path", xref="paper", yref="paper",
                   path=f"M {px_x(3222)},{px_y(1)} L {px_x(3236)},{px_y(1)} L {px_x(3229)},{px_y(7)} Z",
                   fillcolor="#a0a0a0", line=dict(width=0)))

# mouse pointer left on the chart
tip_x, tip_y = 158, 881
pointer = [(0, 0), (0, 22), (5, 17), (9, 26), (12, 25), (8, 16), (16, 16)]
path = "M " + " L ".join(f"{px_x(tip_x + dx)},{px_y(tip_y + dy)}" for dx, dy in pointer) + " Z"
shapes.append(dict(type="path", xref="paper", yref="paper", path=path,
                   fillcolor="white", line=dict(color="#404040", width=1), layer="above"))

# light window edges
for x0, y0, x1, y1 in [(0, 0, W, 2), (0, H - 3, W, H), (W - 3, 0, W, H)]:
    shapes.append(dict(type="rect", xref="paper", yref="paper",
                       x0=px_x(x0), x1=px_x(x1), y0=px_y(y1), y1=px_y(y0),
                       fillcolor="#ececec", line=dict(width=0), layer="above"))

fig.update_layout(
    width=W, height=H, autosize=False,
    margin=dict(l=ML, r=MR, t=MT, b=MB, pad=0),
    paper_bgcolor="white", plot_bgcolor="white",
    showlegend=False, hovermode=False,
    shapes=shapes, annotations=annotations,
    xaxis=dict(range=[x_lo, x_hi], rangeslider=dict(visible=False),
               showgrid=False, zeroline=False,
               tickmode="array", tickvals=TIME_LABEL_BARS, showticklabels=False,
               ticks="outside", ticklen=4, tickcolor="black", tickwidth=1,
               showline=True, linecolor="black", linewidth=1, mirror=True,
               minor=dict(tickmode="linear", tick0=18.9, dtick=18.894, showgrid=True,
                          gridcolor="#c0c0c0", griddash="3px,3px", gridwidth=1)),
    yaxis=dict(range=[PRICE_BOT, PRICE_TOP], side="right",
               tickmode="array", tickvals=PRICE_TICKS,
               ticktext=[f"{t:.5f}" for t in PRICE_TICKS],
               showgrid=True, gridcolor="#c0c0c0", griddash="3px,3px", gridwidth=1,
               zeroline=False, ticks="outside", ticklen=4, tickcolor="black",
               ticklabelstandoff=2,
               tickfont=dict(family=FONT, size=15.5, color="black"),
               showline=True, linecolor="black", linewidth=1, mirror=True),
)

fig.write_html("out.html", config={"displayModeBar": False, "staticPlot": True},
               post_script="document.body.style.margin='0';document.body.style.overflow='hidden';")
